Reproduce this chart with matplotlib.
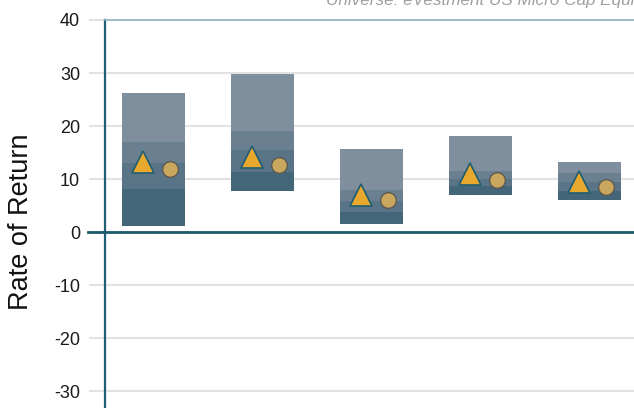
import matplotlib
matplotlib.use("Agg")
import matplotlib.pyplot as plt
import numpy as np

# Data (percentile bands: 5th, 25th, median, 75th, 95th) per period
periods = ["P1", "P2", "P3", "P4", "P5"]
p95 = [26.2, 29.9, 15.6, 18.1, 13.3]
p75 = [17.0, 19.0, 7.9, 11.6, 11.1]
p50 = [13.1, 15.4, 5.8, 10.0, 9.4]
p25 = [8.1, 11.4, 3.7, 8.6, 7.8]
p05 = [1.1, 7.7, 1.5, 7.0, 6.0]
portfolio = [13.2, 14.1, 6.9, 10.9, 9.4]   # triangle
benchmark = [11.8, 12.7, 6.0, 9.8, 8.4]    # circle
yticks = [-30, -20, -10, 0, 10, 20, 30, 40]
title = "Universe: eVestment US Micro Cap Equity"
ylabel = "Rate of Return"

W, H = 634, 408
fig = plt.figure(figsize=(W / 100, H / 100), dpi=100)
ax = fig.add_axes([105 / W, 0, 1 - 105 / W, (H - 20) / H])

band_colors = ["#7f8f9e", "#6a7f90", "#587486", "#436679"]
x = np.arange(len(periods))
bw = 0.578
uppers = [p95, p75, p50, p25]
lowers = [p75, p50, p25, p05]
for up, lo, c in zip(uppers, lowers, band_colors):
    up = np.array(up); lo = np.array(lo)
    ax.bar(x, up - lo, bottom=lo, width=bw, color=c, linewidth=0, zorder=3)

ax.plot(x - 0.10, portfolio, linestyle="none", marker="^", markersize=15.5,
        markerfacecolor="#e8a82e", markeredgecolor="#1f5e70", markeredgewidth=1.2, zorder=5)
ax.plot(x + 0.147, benchmark, linestyle="none", marker="o", markersize=11.3,
        markerfacecolor="#c9a75e", markeredgecolor="#5e5a50", markeredgewidth=1.0, zorder=5)

ax.set_xlim(-0.445, 4.408)
ax.set_ylim(-33.2, 40)
ax.set_yticks(yticks)
ax.set_yticklabels([str(t) for t in yticks])
ax.set_xticks([])
ax.grid(axis="y", color="#e2e2e2", linewidth=1.5, zorder=0)
ax.set_axisbelow(True)
ax.tick_params(axis="y", length=11.5, width=1.5, color="#e2e2e2", pad=6.5,
               labelsize=13, labelcolor="#1a1a1a")
for lab in ax.get_yticklabels():
    lab.set_family(["Liberation Sans Narrow", "Liberation Sans", "DejaVu Sans"])

for s in ["right", "bottom"]:
    ax.spines[s].set_visible(False)
ax.spines["left"].set_color("#1f5f73")
ax.spines["left"].set_linewidth(1.6)
ax.spines["top"].set_color("#8fb3c2")
ax.spines["top"].set_linewidth(1.2)

ax.axhline(0, xmin=-(105 - 88) / (W - 105), xmax=1, color="#1b5a6b",
           linewidth=2.0, clip_on=False, zorder=4)

fig.text(21 / W, 1 - 222 / H, ylabel, rotation=90, ha="center", va="center",
         fontsize=19.5, family=["Liberation Sans", "DejaVu Sans"], color="#111111")
fig.text(326 / W, 1 - 5 / H, title, ha="left", va="baseline", fontsize=12.3,
         style="italic", color="#a0a0a0", family=["Liberation Sans", "DejaVu Sans"])

fig.savefig("out.png", dpi=100)
